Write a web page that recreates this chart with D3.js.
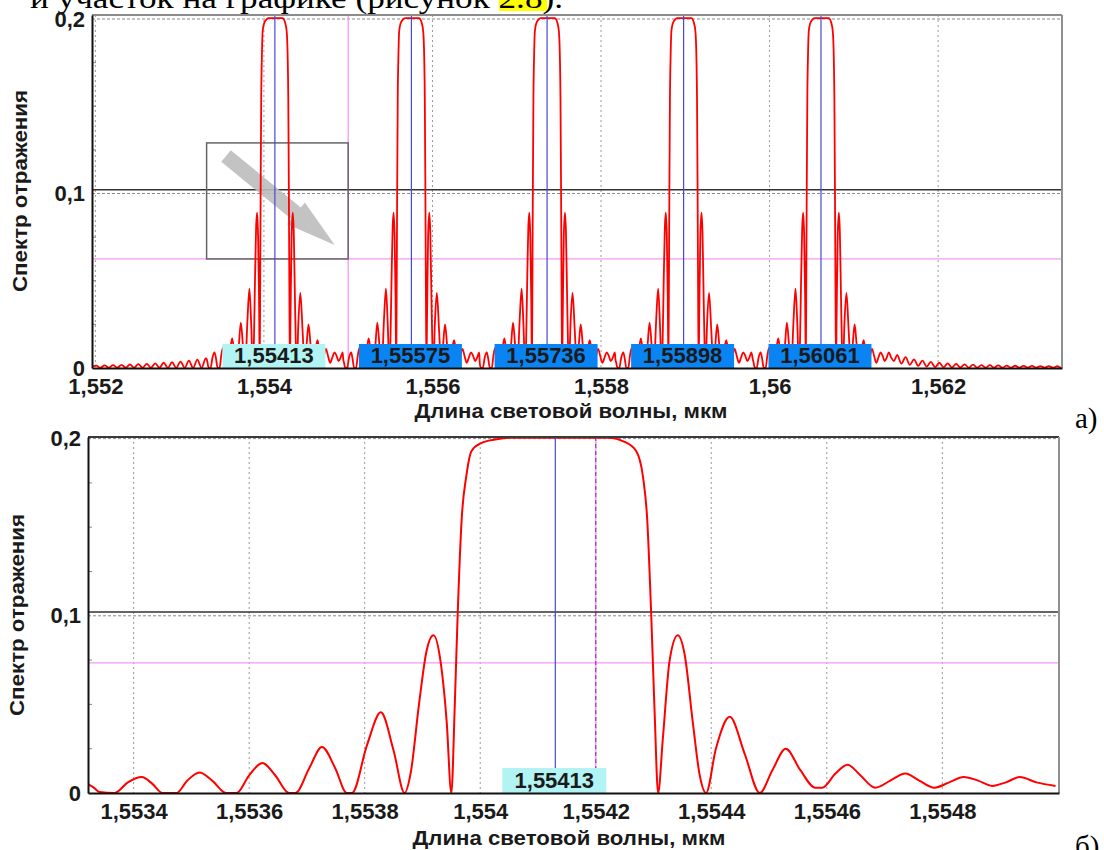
<!DOCTYPE html>
<html>
<head>
<meta charset="utf-8">
<style>
  body { margin: 0; background: #fff; }
  svg text { font-family: "Liberation Sans", Arial, sans-serif; font-weight: bold; fill: #1a1a1a; }
  svg text.serif { font-family: "Liberation Serif", "Times New Roman", serif; font-weight: normal; fill: #000; }
</style>
</head>
<body>
<svg id="chart" width="1104" height="850"></svg>
<script src="https://d3js.org/d3.v7.min.js"></script>
<script>
// peaks of chart a (centre wavelengths, label text)
const peakCenters = [1.55413, 1.55575, 1.55736, 1.55898, 1.56061];
const peakLabels = ["1,55413", "1,55575", "1,55736", "1,55898", "1,56061"];

// chart б : first peak
const zoomWl = [1.553321,1.553331,1.553341,1.553367,1.553390,1.553414,1.553433,1.553450,1.553474,1.553493,
  1.553514,1.553536,1.553560,1.553578,1.553600,1.553623,1.553645,1.553669,1.553680,1.553704,
  1.553726,1.553749,1.553769,1.553778,1.553804,1.553828,1.553850,1.553869,1.553880,1.553894,
  1.553907,1.553919,1.553931,1.553942,1.553950,1.553956,1.553961,1.553968,1.553976,1.553985,
  1.554002,1.554026,1.554054,1.554100,1.554160,1.554221,1.554251,1.554270,1.554282,1.554289,
  1.554296,1.554302,1.554308,1.554316,1.554328,1.554342,1.554354,1.554368,1.554380,1.554391,
  1.554408,1.554432,1.554458,1.554484,1.554506,1.554529,1.554554,1.554580,1.554592,1.554615,
  1.554636,1.554658,1.554684,1.554710,1.554736,1.554760,1.554786,1.554812,1.554837,1.554862,
  1.554886,1.554910,1.554934,1.554963,1.554996];
const zoomR = [0.005,0.003,0.0005,0,0.006,0.009,0.005,0,0,0.007,
  0.0115,0.007,0,0,0.01,0.017,0.01,0,0,0.014,
  0.026,0.014,0,0,0.027,0.0455,0.024,0,0.012,0.05,
  0.08,0.089,0.075,0.04,0,0.05,0.101,0.155,0.179,0.193,
  0.1975,0.1995,0.2005,0.2005,0.2005,0.2005,0.198,0.193,0.178,0.155,
  0.101,0.045,0,0.03,0.075,0.089,0.078,0.04,0.01,0,
  0.025,0.043,0.022,0,0.013,0.025,0.013,0.003,0.003,0.011,
  0.016,0.01,0.003,0.007,0.011,0.007,0.003,0.006,0.009,0.007,
  0.004,0.006,0.009,0.006,0.004];

// chart a : ripple left of the first peak and right of the last one
const leftTailWl = [1.55196,1.55201,1.55206,1.55211,1.55216,1.55221,1.55226,1.55231,1.55236,1.55241,
  1.55246,1.55251,1.55256,1.55261,1.55266,1.55271,1.55276,1.55281,1.55286,1.55291,
  1.55296,1.55301,1.55306,1.55311,1.55316,1.55321,1.55326,1.55331];
const leftTailR = [0.0006,0.0014,0.0002,0.0015,0.0002,0.0016,0.0002,0.0018,0.0002,0.002,
  0.0002,0.0022,0.0002,0.0024,0.0002,0.0027,0.0002,0.003,0.0001,0.0033,
  0.0001,0.0037,0.0001,0.0042,0,0.0048,0,0.0055];
const rightTailWl = [1.561514,1.561564,1.561614,1.561664,1.561714,1.561764,1.561814,1.561864,1.561914,1.561964,
  1.562014,1.562064,1.562114,1.562164,1.562214,1.562264,1.562314,1.562364,1.562414,1.562464,
  1.562514,1.562564,1.562614,1.562664,1.562714,1.562764,1.562814,1.562864,1.562914,1.562964,
  1.563014,1.563064,1.563114,1.563164,1.563214,1.563264,1.563314,1.563364,1.563414,1.563464,
  1.563514];
const rightTailR = [0.0075,0.0025,0.0062,0.0018,0.005,0.0012,0.0042,0.0008,0.0035,0.0005,
  0.003,0.0004,0.0026,0.0003,0.0023,0.0003,0.0021,0.0002,0.0019,0.0002,
  0.0017,0.0002,0.0016,0.0002,0.0015,0.0002,0.0014,0.0002,0.0013,0.0002,
  0.0012,0.0002,0.0012,0.0002,0.0011,0.0002,0.0011,0.0002,0.001,0.0002,
  0.001];

const ticksA = [1.552, 1.554, 1.556, 1.558, 1.56, 1.562];
const ticksB = [1.5534, 1.5536, 1.5538, 1.554, 1.5542, 1.5544, 1.5546, 1.5548];
const yTicks = [0, 0.1, 0.2];
const yMinor = [0.025, 0.05, 0.075, 0.125, 0.15, 0.175];
const halfLevel = 0.1022;

// cursors / zoom box of chart a, cursor of chart б
const cursorA = { wl: 1.555, r: 0.0625 };
const cursorB = { wl: 1.5542, r: 0.0734 };
const zoomBoxWl = [1.55332, 1.555], zoomBoxR = [0.0625, 0.129];
const arrowFrom = [1.55355, 0.1215], arrowTo = [1.55484, 0.0705];

const xTitle = "Длина световой волны, мкм";
const yTitle = "Спектр отражения";

// build chart a series: shifted copies of the measured peak profile
const profile = zoomWl.map((w, i) => ({ off: w - peakCenters[0], r: zoomR[i] }));
let seriesA = leftTailWl.map((w, i) => ({ wl: w, r: leftTailR[i] }));
peakCenters.forEach((c, i) => {
  const lo = i === 0 ? -1 : -(c - peakCenters[i - 1]) / 2;
  const hi = i === peakCenters.length - 1 ? 1 : (peakCenters[i + 1] - c) / 2;
  profile.filter(p => p.off >= lo && p.off < hi)
    .forEach(p => seriesA.push({ wl: c + p.off, r: p.r }));
});
rightTailWl.forEach((w, i) => seriesA.push({ wl: w, r: rightTailR[i] }));
const seriesB = zoomWl.map((w, i) => ({ wl: w, r: zoomR[i] }));

const svg = d3.select("#chart");
const fmt = v => String(v).replace(".", ",");

// cut-off line of body text at the top
svg.append("rect").attr("x", 499).attr("y", 0).attr("width", 48).attr("height", 11).attr("fill", "#ffff00");
svg.append("text").attr("class", "serif").attr("x", 30).attr("y", 8)
  .attr("font-size", 30).attr("textLength", 533).attr("lengthAdjust", "spacingAndGlyphs")
  .text("и участок на графике (рисунок 2.8).");

function panel(o) {
  const g = svg.append("g");
  const x = d3.scaleLinear().domain(o.xDomain).range([o.left, o.right]);
  const y = d3.scaleLinear().domain([0, o.yMax]).range([o.bottom, o.top]);

  svg.append("clipPath").attr("id", "clip" + o.id).append("rect")
    .attr("x", o.left).attr("y", o.top).attr("width", o.right - o.left).attr("height", o.bottom - o.top);

  // grid
  g.append("g").selectAll("line").data(o.xTicks).join("line")
    .attr("x1", d => x(d)).attr("x2", d => x(d)).attr("y1", o.top).attr("y2", o.bottom)
    .attr("stroke", "#9a9a9a").attr("stroke-dasharray", "2,3");
  g.append("g").selectAll("line").data([0.1, 0.2]).join("line")
    .attr("x1", o.left).attr("x2", o.right).attr("y1", d => y(d)).attr("y2", d => y(d))
    .attr("stroke", "#8a8a8a").attr("stroke-dasharray", "3,2");

  // minor ticks on y axis
  g.append("g").selectAll("line").data(yMinor).join("line")
    .attr("x1", o.left).attr("x2", o.left + 4).attr("y1", d => y(d)).attr("y2", d => y(d))
    .attr("stroke", "#888");

  // cursor lines
  g.append("line").attr("x1", o.left).attr("x2", o.right)
    .attr("y1", y(o.cursor.r)).attr("y2", y(o.cursor.r))
    .attr("stroke", "#f49af4").attr("stroke-width", 1.3);
  g.append("line").attr("x1", x(o.cursor.wl)).attr("x2", x(o.cursor.wl))
    .attr("y1", o.top).attr("y2", o.bottom)
    .attr("stroke", "#f49af4").attr("stroke-width", 1.3);
  if (o.cursorDash) {
    g.append("line").attr("x1", x(o.cursor.wl)).attr("x2", x(o.cursor.wl))
      .attr("y1", o.top).attr("y2", o.bottom)
      .attr("stroke", "#9a3aa8").attr("stroke-width", 1.2).attr("stroke-dasharray", "4,3");
  }
  g.append("line").attr("x1", o.left).attr("x2", o.right)
    .attr("y1", y(halfLevel)).attr("y2", y(halfLevel))
    .attr("stroke", "#333").attr("stroke-width", 1.5);

  if (o.extra) o.extra(g, x, y);

  // spectrum
  const line = d3.line().x(d => x(d.wl)).y(d => y(d.r)).curve(d3.curveMonotoneX);
  g.append("path").datum(o.series)
    .attr("clip-path", "url(#clip" + o.id + ")")
    .attr("fill", "none").attr("stroke", "#ff0000").attr("stroke-width", o.lineWidth)
    .attr("stroke-linejoin", "round").attr("d", line);

  // peak markers and labels
  o.peaks.forEach((p, i) => {
    g.append("line").attr("x1", x(p)).attr("x2", x(p))
      .attr("y1", o.top).attr("y2", o.bottom - o.boxH)
      .attr("stroke", "#4848d8").attr("stroke-width", 1.2);
    g.append("rect").attr("x", x(p) - o.boxW / 2 - 1).attr("y", o.bottom - o.boxH)
      .attr("width", o.boxW).attr("height", o.boxH)
      .attr("fill", o.boxColors[i]);
    g.append("text").attr("x", x(p) - 1).attr("y", o.bottom - 5)
      .attr("text-anchor", "middle").attr("font-size", 22)
      .text(o.labels[i]);
  });

  // frame
  g.append("line").attr("x1", o.left).attr("x2", o.right).attr("y1", o.top).attr("y2", o.top)
    .attr("stroke", o.topColor).attr("stroke-width", 2);
  g.append("line").attr("x1", o.right).attr("x2", o.right).attr("y1", o.top).attr("y2", o.bottom)
    .attr("stroke", "#909090").attr("stroke-width", 2);

  // axes
  const ax = g.append("g").attr("transform", `translate(0,${o.bottom})`)
    .call(d3.axisBottom(x).tickValues(o.xTicks).tickSize(0).tickPadding(10).tickFormat(fmt));
  ax.select(".domain").attr("stroke", "#111").attr("stroke-width", 2);
  ax.selectAll("text").attr("font-size", 22).attr("font-family", null).attr("fill", "#1a1a1a");

  const ay = g.append("g").attr("transform", `translate(${o.left},0)`)
    .call(d3.axisLeft(y).tickValues(yTicks).tickSize(0).tickPadding(7).tickFormat(fmt));
  ay.select(".domain").attr("stroke", "#111").attr("stroke-width", 2);
  ay.selectAll("text").attr("font-size", 22).attr("font-family", null).attr("fill", "#1a1a1a");

  // titles
  g.append("text").attr("x", o.xTitleX).attr("y", o.xTitleY).attr("text-anchor", "middle")
    .attr("font-size", 21).attr("textLength", 313).attr("lengthAdjust", "spacingAndGlyphs")
    .text(xTitle);
  g.append("text").attr("transform", `translate(${o.yTitleX},${o.yTitleY}) rotate(-90)`)
    .attr("text-anchor", "middle").attr("font-size", 21)
    .attr("textLength", 202).attr("lengthAdjust", "spacingAndGlyphs")
    .text(yTitle);

  svg.append("text").attr("class", "serif").attr("x", 1075).attr("y", o.tagY)
    .attr("font-size", 29).text(o.tag);
}

panel({
  id: "a", left: 92, right: 1062, top: 15, bottom: 368,
  xDomain: [1.55196, 1.56347], yMax: 0.2023, xTicks: ticksA,
  series: seriesA, lineWidth: 1.8, peaks: peakCenters, labels: peakLabels,
  boxColors: ["#b2f4f4", "#0a84f2", "#0a84f2", "#0a84f2", "#0a84f2"],
  boxW: 103, boxH: 24, cursor: cursorA, cursorDash: false, topColor: "#8c8c8c",
  xTitleX: 571, xTitleY: 418, yTitleX: 27, yTitleY: 191, tag: "а)", tagY: 428,
  extra: (g, x, y) => {
    // grey zoom frame and arrow
    const ax0 = x(arrowFrom[0]), ay0 = y(arrowFrom[1]), ax1 = x(arrowTo[0]), ay1 = y(arrowTo[1]);
    const len = Math.hypot(ax1 - ax0, ay1 - ay0), ux = (ax1 - ax0) / len, uy = (ay1 - ay0) / len;
    const px = -uy, py = ux, hw = 7.5, headW = 14, headL = 50;
    const bx = ax1 - ux * headL, by = ay1 - uy * headL;
    const pts = [
      [ax0 + px * hw, ay0 + py * hw], [bx + px * hw, by + py * hw], [bx + px * headW, by + py * headW],
      [ax1, ay1],
      [bx - px * headW, by - py * headW], [bx - px * hw, by - py * hw], [ax0 - px * hw, ay0 - py * hw]
    ];
    g.append("polygon").attr("points", pts.map(p => p.join(",")).join(" "))
      .attr("fill", "#bcbcbc").attr("opacity", 0.9);
    g.append("rect").attr("x", x(zoomBoxWl[0])).attr("y", y(zoomBoxR[1]))
      .attr("width", x(zoomBoxWl[1]) - x(zoomBoxWl[0])).attr("height", y(zoomBoxR[0]) - y(zoomBoxR[1]))
      .attr("fill", "none").attr("stroke", "#666").attr("stroke-width", 1.5);
  }
});

panel({
  id: "b", left: 88, right: 1059, top: 437, bottom: 793,
  xDomain: [1.553321, 1.555002], yMax: 0.2009, xTicks: ticksB,
  series: seriesB, lineWidth: 2, peaks: [peakCenters[0]], labels: [peakLabels[0]],
  boxColors: ["#b2f4f4"], boxW: 104, boxH: 25, cursor: cursorB, cursorDash: true, topColor: "#3a3a3a",
  xTitleX: 569, xTitleY: 845, yTitleX: 24, yTitleY: 615, tag: "б)", tagY: 856
});
</script>
</body>
</html>
